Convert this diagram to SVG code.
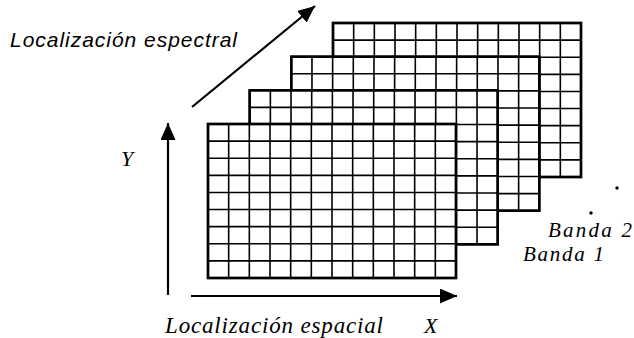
<svg xmlns="http://www.w3.org/2000/svg" width="634" height="338" viewBox="0 0 634 338">
<style>
.frame{fill:#fff;stroke:#000;stroke-width:2.4}
.cells{fill:none;stroke:#000;stroke-width:1.6}
.axis{fill:none;stroke:#000;stroke-width:2.2}
.lbl{font-family:"Liberation Serif","Times New Roman",serif;font-style:italic;fill:#000}
.lbls{font-family:"Liberation Sans",Arial,sans-serif;font-style:italic;fill:#000}
</style>
<defs>
<marker id="head" markerUnits="userSpaceOnUse" markerWidth="18" markerHeight="15" refX="17" refY="7.5" orient="auto" viewBox="0 0 18 15">
<path d="M0,0 L17,7.5 L0,15 Z" fill="#000"/>
</marker>
<g id="grid">
<rect class="frame" x="0" y="0" width="248" height="154"/>
<path class="cells" d="M20.67 0V154M41.33 0V154M62 0V154M82.67 0V154M103.33 0V154M124 0V154M144.67 0V154M165.33 0V154M186 0V154M206.67 0V154M227.33 0V154M0 17.11H248M0 34.22H248M0 51.33H248M0 68.44H248M0 85.56H248M0 102.67H248M0 119.78H248M0 136.89H248"/>
<rect x="0" y="0" width="248" height="154" fill="none" stroke="#000" stroke-width="2.4"/>
</g>
</defs>
<g id="band4"><use href="#grid" x="333" y="23"/></g>
<g id="band3"><use href="#grid" x="291.3" y="56.7"/></g>
<g id="band2"><use href="#grid" x="249.7" y="90.3"/></g>
<g id="band1"><use href="#grid" x="208" y="124"/></g>
<g id="connectors">
<line class="axis" x1="192" y1="107" x2="315" y2="6" marker-end="url(#head)"/>
<line class="axis" x1="168" y1="295" x2="168" y2="123" marker-end="url(#head)"/>
<line class="axis" x1="191" y1="296" x2="457" y2="296" marker-end="url(#head)"/>
</g>
<g id="dots">
<circle cx="617" cy="188" r="1.7" fill="#000"/>
<circle cx="591" cy="213" r="1.7" fill="#000"/>
</g>
<g id="labels">
<text class="lbls" x="10" y="47" font-size="21" textLength="227" lengthAdjust="spacing">Localización espectral</text>
<text class="lbl" x="165" y="333" font-size="23" textLength="218" lengthAdjust="spacing">Localización espacial</text>
<text class="lbl" x="424" y="333" font-size="22">X</text>
<text class="lbl" x="121" y="166" font-size="22">Y</text>
<text class="lbl" x="548" y="237" font-size="21" textLength="84" lengthAdjust="spacing">Banda 2</text>
<text class="lbl" x="523" y="261" font-size="21" textLength="81" lengthAdjust="spacing">Banda 1</text>
</g>
</svg>
